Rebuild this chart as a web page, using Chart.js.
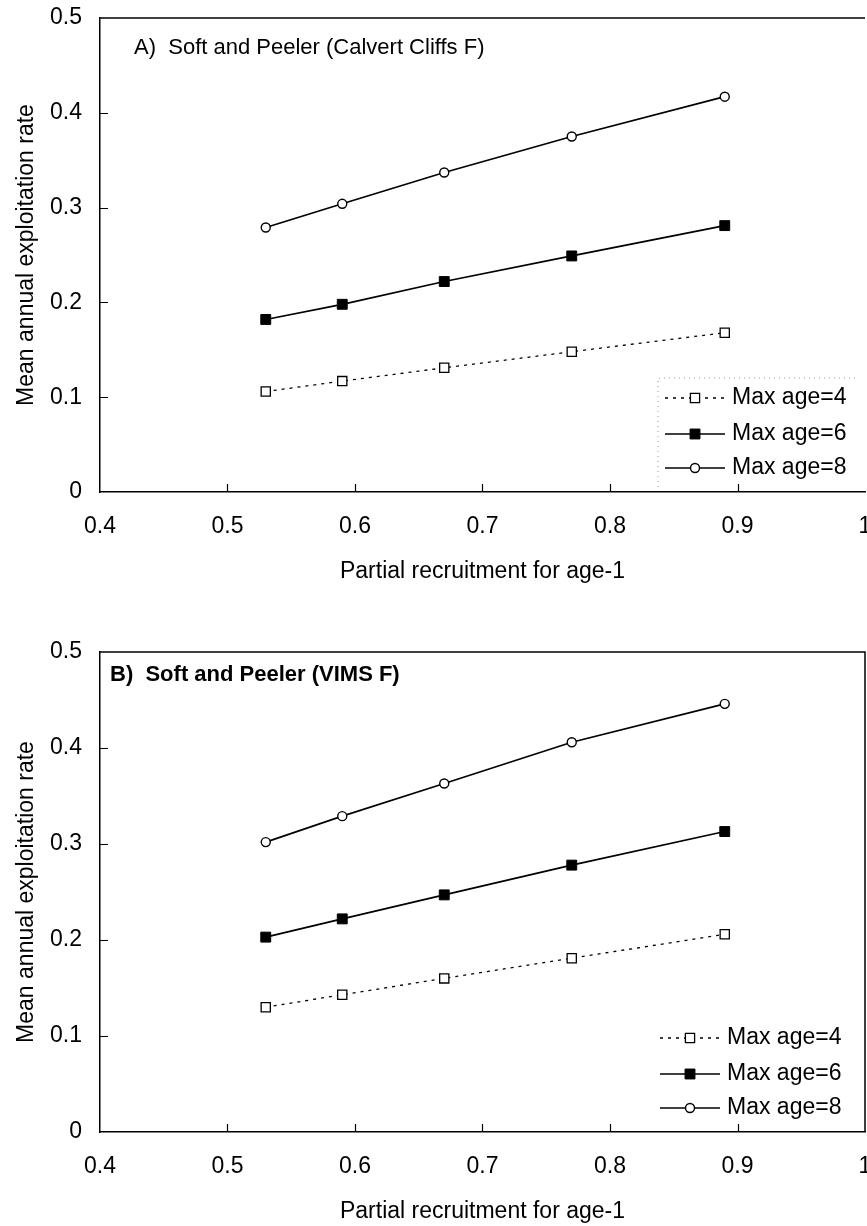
<!DOCTYPE html>
<html>
<head>
<meta charset="utf-8">
<script src="https://cdn.jsdelivr.net/npm/chart.js@4.4.1/dist/chart.umd.min.js"></script>
<style>
  html, body { margin: 0; padding: 0; background: #fff; overflow: hidden; }
  .panel { position: absolute; left: 0; }
</style>
</head>
<body>
<div class="panel" style="top:0px"><canvas id="chartA" width="873" height="586"></canvas></div>
<div class="panel" style="top:620px"><canvas id="chartB" width="873" height="606"></canvas></div>
<script>
// Partial recruitment for age-1 (x values, shared by both panels)
const recruit = [0.53, 0.59, 0.67, 0.77, 0.89];
const seriesNames = ["Max age=4", "Max age=6", "Max age=8"];

// Panel A – Calvert Cliffs F
const calvertAge4 = [0.106, 0.117, 0.131, 0.148, 0.168];
const calvertAge6 = [0.182, 0.198, 0.222, 0.249, 0.281];
const calvertAge8 = [0.279, 0.304, 0.337, 0.375, 0.417];

// Panel B – VIMS F
const vimsAge4 = [0.130, 0.143, 0.160, 0.181, 0.206];
const vimsAge6 = [0.203, 0.222, 0.247, 0.278, 0.313];
const vimsAge8 = [0.302, 0.329, 0.363, 0.406, 0.446];

const xTicks = [0.4, 0.5, 0.6, 0.7, 0.8, 0.9, 1];
const yTicks = [0, 0.1, 0.2, 0.3, 0.4, 0.5];

const FONT = "'Liberation Sans', Arial, sans-serif";
const FS = 23;

function toPoints(ys) {
    return ys.map((y, i) => ({ x: recruit[i], y: y }));
}

function makeDatasets(a4, a6, a8) {
    return [
        {
            label: seriesNames[0], data: toPoints(a4),
            borderColor: "#000", borderWidth: 1.3, borderDash: [3, 5],
            pointStyle: "rect", pointRadius: 6.5, pointBorderWidth: 1.3,
            pointBackgroundColor: "#fff", pointBorderColor: "#000"
        },
        {
            label: seriesNames[1], data: toPoints(a6),
            borderColor: "#000", borderWidth: 1.7,
            pointStyle: "rect", pointRadius: 7, pointBorderWidth: 1,
            pointBackgroundColor: "#000", pointBorderColor: "#000"
        },
        {
            label: seriesNames[2], data: toPoints(a8),
            borderColor: "#000", borderWidth: 1.7,
            pointStyle: "circle", pointRadius: 4.5, pointBorderWidth: 1.4,
            pointBackgroundColor: "#fff", pointBorderColor: "#000"
        }
    ];
}

// frame, inward ticks, panel label and legend
const decorations = {
    id: "decorations",
    afterDatasetsDraw(chart, args, opts) {
        const ctx = chart.ctx;
        const a = chart.chartArea;
        const xs = chart.scales.x, ys = chart.scales.y;
        ctx.save();
        ctx.strokeStyle = "#000";
        ctx.lineWidth = 1.5;
        ctx.beginPath();
        ctx.moveTo(a.left, a.top);
        ctx.lineTo(a.right, a.top);
        if (opts.rightBorder) ctx.lineTo(a.right, a.bottom);
        ctx.stroke();

        ctx.lineWidth = 1.2;
        ctx.beginPath();
        xTicks.slice(1, -1).forEach(v => {
            const px = Math.round(xs.getPixelForValue(v)) + 0.5;
            ctx.moveTo(px, a.bottom);
            ctx.lineTo(px, a.bottom - 8);
        });
        yTicks.slice(1, -1).forEach(v => {
            const py = Math.round(ys.getPixelForValue(v)) + 0.5;
            ctx.moveTo(a.left, py);
            ctx.lineTo(a.left + 8, py);
        });
        ctx.stroke();

        // panel label
        ctx.fillStyle = "#000";
        ctx.font = (opts.bold ? "bold " : "") + (FS - 1) + "px " + FONT;
        ctx.textBaseline = "middle";
        ctx.textAlign = "left";
        ctx.fillText(opts.label, a.left + opts.labelDx, a.top + opts.labelDy);

        // legend
        if (opts.legendFrame) {
            ctx.strokeStyle = "#999";
            ctx.lineWidth = 1;
            ctx.setLineDash([1, 4]);
            ctx.beginPath();
            ctx.moveTo(a.right - 10, a.bottom - 114);
            ctx.lineTo(a.right - 207, a.bottom - 114);
            ctx.lineTo(a.right - 207, a.bottom - 2);
            ctx.stroke();
            ctx.setLineDash([]);
        }
        const rows = [a.bottom - 94, a.bottom - 58, a.bottom - 24];
        chart.data.datasets.forEach((ds, i) => {
            const y = rows[i];
            const x0 = a.right - opts.legendDx, x1 = x0 + 60;
            ctx.strokeStyle = "#000";
            ctx.lineWidth = ds.borderWidth;
            ctx.setLineDash(ds.borderDash || []);
            ctx.beginPath();
            ctx.moveTo(x0, y);
            ctx.lineTo(x1, y);
            ctx.stroke();
            ctx.setLineDash([]);
            ctx.fillStyle = ds.pointBackgroundColor;
            ctx.strokeStyle = ds.pointBorderColor;
            ctx.lineWidth = ds.pointBorderWidth;
            Chart.helpers.drawPoint(ctx, {
                pointStyle: ds.pointStyle, radius: ds.pointRadius, rotation: 0,
                borderWidth: ds.pointBorderWidth
            }, (x0 + x1) / 2, y);
            ctx.fillStyle = "#000";
            ctx.font = FS + "px " + FONT;
            ctx.fillText(ds.label, x1 + 7, y);
        });
        ctx.restore();
    }
};

function makePanel(canvasId, datasets, topPad, deco) {
    return new Chart(document.getElementById(canvasId), {
        type: "line",
        data: { datasets: datasets },
        options: {
            responsive: false,
            animation: false,
            layout: { padding: { top: topPad, right: 2, left: 0, bottom: 0 } },
            plugins: {
                legend: { display: false },
                tooltip: { enabled: false },
                decorations: deco
            },
            scales: {
                x: {
                    type: "linear", min: 0.4, max: 1,
                    afterBuildTicks: s => { s.ticks = xTicks.map(v => ({ value: v })); },
                    afterFit: s => { s.height = 94; s.paddingLeft = 0; s.paddingRight = 0; },
                    grid: { display: false, drawTicks: false },
                    border: { display: true, color: "#000", width: 1.5 },
                    ticks: {
                        color: "#000", font: { family: FONT, size: FS },
                        padding: 21, maxRotation: 0, autoSkip: false,
                        callback: v => String(+v.toFixed(1))
                    },
                    title: {
                        display: true, text: "Partial recruitment for age-1",
                        color: "#000", font: { family: FONT, size: FS },
                        padding: { top: 0, bottom: 1 }
                    }
                },
                y: {
                    min: 0, max: 0.5,
                    afterBuildTicks: s => { s.ticks = yTicks.map(v => ({ value: v })); },
                    afterFit: s => { s.width = 100; s.paddingTop = 0; s.paddingBottom = 0; },
                    grid: { display: false, drawTicks: false },
                    border: { display: true, color: "#000", width: 1.5 },
                    ticks: {
                        color: "#000", font: { family: FONT, size: FS },
                        padding: 18,
                        callback: v => String(+v.toFixed(1))
                    },
                    title: {
                        display: true, text: "Mean annual exploitation rate",
                        color: "#000", font: { family: FONT, size: FS },
                        padding: { top: 13, bottom: 0 }
                    }
                }
            }
        },
        plugins: [decorations]
    });
}

makePanel("chartA", makeDatasets(calvertAge4, calvertAge6, calvertAge8), 18, {
    label: "A)  Soft and Peeler (Calvert Cliffs F)", bold: false,
    labelDx: 34, labelDy: 30, legendDx: 200, legendFrame: true, rightBorder: false
});

makePanel("chartB", makeDatasets(vimsAge4, vimsAge6, vimsAge8), 32, {
    label: "B)  Soft and Peeler (VIMS F)", bold: true,
    labelDx: 10, labelDy: 23, legendDx: 205, legendFrame: false, rightBorder: true
});
</script>
</body>
</html>
